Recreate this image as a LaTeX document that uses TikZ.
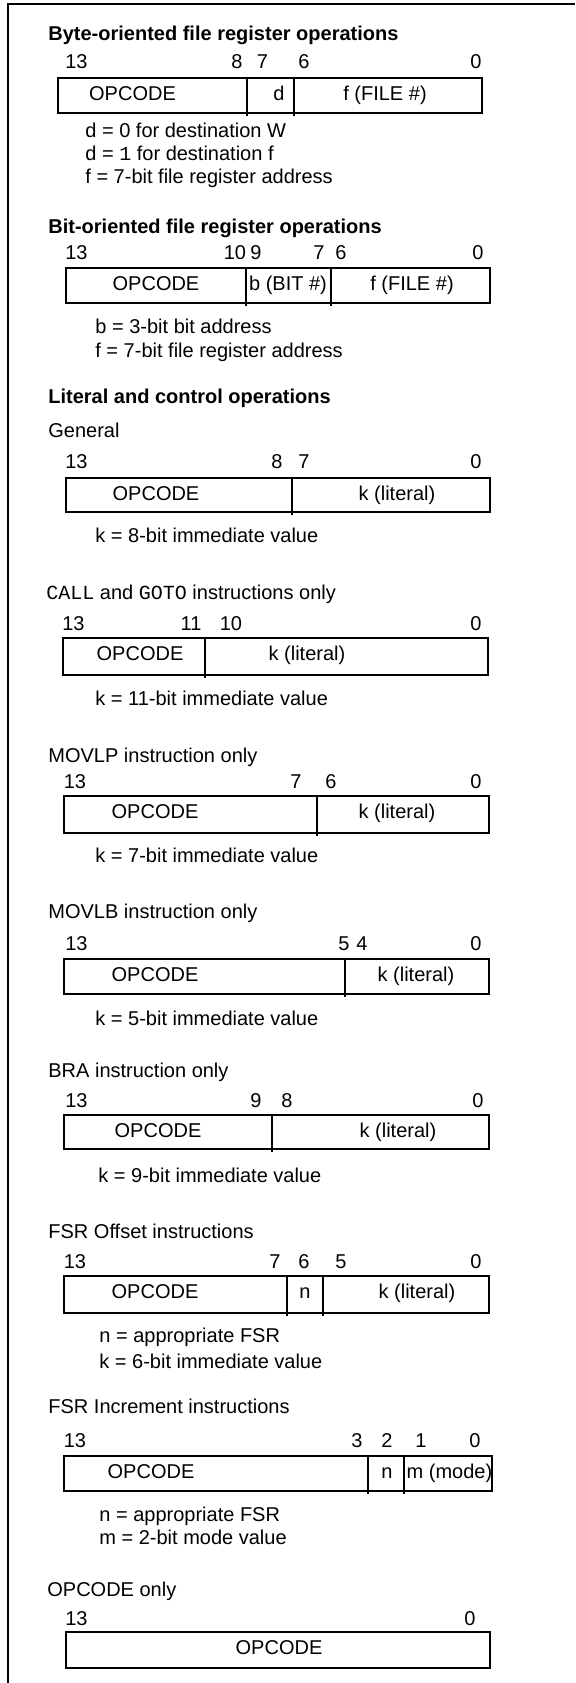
\documentclass[tikz,border=0pt]{standalone}
\usepackage{fontspec}
\setmainfont{Liberation Sans}
\newfontfamily\codefont{Liberation Mono}

\begin{document}
\begin{tikzpicture}[x=0.5pt, y=-0.5pt, every node/.style={font=\fontsize{10}{12}\selectfont, inner sep=0pt, anchor=base},
	txt/.style={anchor=base west}, hdr/.style={anchor=base west, font=\fontsize{10}{12}\selectfont\bfseries},
	reg/.style={line width=1pt}, sep/.style={line width=0.65pt}]
	\useasboundingbox (0,0) rectangle (575,1683);
	\draw[line width=0.75pt] (575,4) -- (8,4) -- (8,1683);
	% byte-oriented
	\node[hdr] (byteT) at (48,40) {Byte-oriented file register operations};
	\foreach \t/\x in {13/76.5,8/237,7/262.5,6/304,0/476} \node (byte\t) at (\x,68) {\t};
	\draw[reg] (58,78) rectangle (482,113);
	\draw[sep] (247,78) -- (247,116) (294,78) -- (294,116);
	\node (byteOp) at (132.5,100.5) {OPCODE};
	\node (byteD) at (279,100.5) {d};
	\node (byteF) at (385,100.5) {f (FILE \#)};
	\node[txt] (byteN1) at (85,137) {d = 0 for destination W};
	\node[txt] (byteN2) at (85,160) {d = {\codefont 1} for destination f};
	\node[txt] (byteN3) at (85,183) {f = 7-bit file register address};
	% bit-oriented
	\node[hdr] (bitT) at (48,233) {Bit-oriented file register operations};
	\foreach \t/\x in {13/76.5,10/235,9/256,7/319,6/341,0/478} \node (bit\t) at (\x,259) {\t};
	\draw[reg] (66,268) rectangle (490,303);
	\draw[sep] (246,268) -- (246,306) (331,268) -- (331,306);
	\node (bitOp) at (156,290.5) {OPCODE};
	\node (bitB) at (288,290.5) {b (BIT \#)};
	\node (bitF) at (412,290.5) {f (FILE \#)};
	\node[txt] (bitN1) at (95,333) {b = 3-bit bit address};
	\node[txt] (bitN2) at (95,357) {f = 7-bit file register address};
	% literal and control
	\node[hdr] (litT) at (48,403) {Literal and control operations};
	\node[txt] (genT) at (48,437) {General};
	\foreach \t/\x in {13/76.5,8/277,7/304,0/476} \node (gen\t) at (\x,468) {\t};
	\draw[reg] (66,478) rectangle (490,512);
	\draw[sep] (292,478) -- (292,515);
	\node (genOp) at (156,500.5) {OPCODE};
	\node (genK) at (397,500.5) {k (literal)};
	\node[txt] (genN) at (95,542) {k = 8-bit immediate value};
	% call / goto
	\node[txt] (callT) at (46,599) {{\codefont CALL} and {\codefont GOTO} instructions only};
	\foreach \t/\x in {13/73.5,11/191,10/231,0/476} \node (call\t) at (\x,630) {\t};
	\draw[reg] (63,638) rectangle (488,675);
	\draw[sep] (205,638) -- (205,678);
	\node (callOp) at (140,660.5) {OPCODE};
	\node (callK) at (307,660.5) {k (literal)};
	\node[txt] (callN) at (95,705) {k = 11-bit immediate value};
	% movlp
	\node[txt] (lpT) at (48,762) {MOVLP instruction only};
	\foreach \t/\x in {13/75,7/296,6/331,0/476} \node (lp\t) at (\x,788) {\t};
	\draw[reg] (64,796) rectangle (489,833);
	\draw[sep] (317,796) -- (317,836);
	\node (lpOp) at (155,818.5) {OPCODE};
	\node (lpK) at (397,818.5) {k (literal)};
	\node[txt] (lpN) at (95,862) {k = 7-bit immediate value};
	% movlb
	\node[txt] (lbT) at (48,918) {MOVLB instruction only};
	\foreach \t/\x in {13/76.5,5/344,4/362,0/476} \node (lb\t) at (\x,950) {\t};
	\draw[reg] (64,959) rectangle (489,994);
	\draw[sep] (345,959) -- (345,997);
	\node (lbOp) at (155,981.5) {OPCODE};
	\node (lbK) at (416,981.5) {k (literal)};
	\node[txt] (lbN) at (95,1025) {k = 5-bit immediate value};
	% bra
	\node[txt] (braT) at (48,1077) {BRA instruction only};
	\foreach \t/\x in {13/76.5,9/256,8/287,0/478} \node (bra\t) at (\x,1107) {\t};
	\draw[reg] (64,1115) rectangle (489,1149);
	\draw[sep] (272,1115) -- (272,1152);
	\node (braOp) at (158,1137.5) {OPCODE};
	\node (braK) at (398,1137.5) {k (literal)};
	\node[txt] (braN) at (98,1182) {k = 9-bit immediate value};
	% fsr offset
	\node[txt] (offT) at (48,1238) {FSR Offset instructions};
	\foreach \t/\x in {13/75,7/275,6/304,5/341,0/476} \node (off\t) at (\x,1268) {\t};
	\draw[reg] (64,1276) rectangle (489,1313);
	\draw[sep] (287,1276) -- (287,1316) (323,1276) -- (323,1316);
	\node (offOp) at (155,1298.5) {OPCODE};
	\node (offN) at (305,1298.5) {n};
	\node (offK) at (417,1298.5) {k (literal)};
	\node[txt] (offN1) at (99,1342) {n = appropriate FSR};
	\node[txt] (offN2) at (99,1368) {k = 6-bit immediate value};
	% fsr increment
	\node[txt] (incT) at (48,1413) {FSR Increment instructions};
	\foreach \t/\x in {13/75,3/357,2/387,1/421,0/475} \node (inc\t) at (\x,1447) {\t};
	\draw[reg] (64,1456) rectangle (492,1491);
	\draw[sep] (368,1456) -- (368,1494) (404,1456) -- (404,1494);
	\node (incOp) at (151,1478.5) {OPCODE};
	\node (incN) at (387,1478.5) {n};
	\node (incM) at (449.5,1478.5) {m (mode)};
	\node[txt] (incN1) at (99,1521) {n = appropriate FSR};
	\node[txt] (incN2) at (99,1544) {m = 2-bit mode value};
	% opcode only
	\node[txt] (opT) at (47,1596) {OPCODE only};
	\foreach \t/\x in {13/76.5,0/470} \node (op\t) at (\x,1625) {\t};
	\draw[reg] (66,1632) rectangle (490,1668);
	\node (opOp) at (279,1654.5) {OPCODE};
\end{tikzpicture}
\end{document}
